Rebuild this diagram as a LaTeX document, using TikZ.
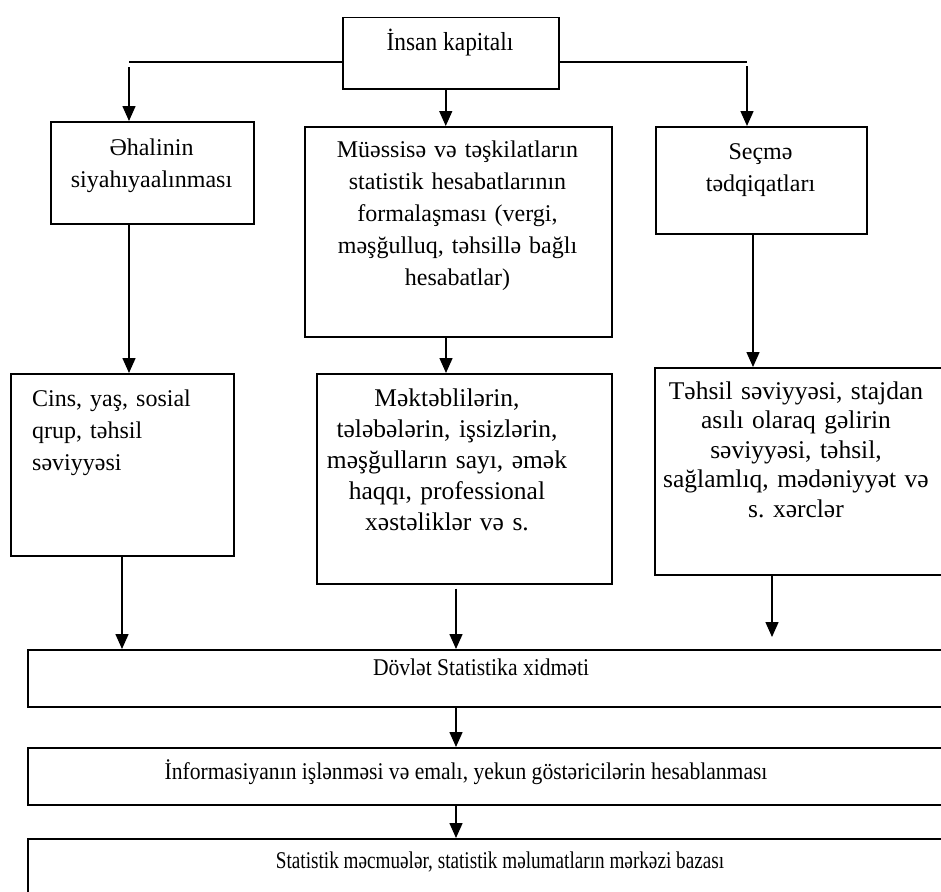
\documentclass[tikz,border=0pt]{standalone}
\usepackage{fontspec}
\setmainfont{Liberation Serif}
\newfontfamily\condfont[FakeStretch=0.9]{Liberation Serif}
\newfontfamily\condfontb[FakeStretch=0.8]{Liberation Serif}
\usetikzlibrary{arrows.meta}
\frenchspacing
\begin{document}
\begin{tikzpicture}[x=1pt,y=-1pt,
  box/.style={draw, line width=1.5pt, inner sep=0pt, anchor=north west},
  txt/.style={inner sep=0pt, anchor=base, text width=#1, align=center, font=\fontsize{24}{32}\selectfont},
  txt/.default=300pt,
  stxt/.style={inner sep=0pt, anchor=base, font=\condfont\fontsize{24}{28}\selectfont},
  conn/.style={line width=1.5pt},
  arr/.style={line width=1.5pt, -{Triangle[length=15pt,width=13pt]}}]
\useasboundingbox (0,0) rectangle (941,891);
\clip (0,0) rectangle (941,891);
% boxes
\node[box, minimum width=216pt, minimum height=71pt] (pin) at (342,17) {};
\node[box, minimum width=203pt, minimum height=102pt] (pop) at (50,121) {};
\node[box, minimum width=307pt, minimum height=210pt] (mid) at (304,126) {};
\node[box, minimum width=211pt, minimum height=107pt] (sec) at (655,126) {};
\node[box, minimum width=223pt, minimum height=182pt] (cins) at (10,373) {};
\node[box, minimum width=295pt, minimum height=210pt] (mek) at (316,373) {};
\node[box, minimum width=320pt, minimum height=207pt] (teh) at (654,367) {};
\node[box, minimum width=940pt, minimum height=57pt] (dov) at (27,649) {};
\node[box, minimum width=940pt, minimum height=57pt] (info) at (27,747) {};
\node[box, minimum width=940pt, minimum height=80pt] (stat) at (27,838) {};
% texts
\node[stxt, font=\condfont\fontsize{26}{30}\selectfont] (pinT) at (450,51) {İnsan kapitalı};
\node[txt=200pt] (popT) at (151.5,155) {Əhalinin\\siyahıyaalınması};
\node[txt=300pt] (midT) at (457.5,157) {Müəssisə və təşkilatların\\statistik hesabatlarının\\formalaşması (vergi,\\məşğulluq, təhsillə bağlı\\hesabatlar)};
\node[txt=200pt] (secT) at (760.5,159) {Seçmə\\tədqiqatları};
\node[txt=200pt, align=left, anchor=base west] (cinsT) at (32,406) {Cins, yaş, sosial\\qrup, təhsil\\səviyyəsi};
\node[txt=290pt, font=\fontsize{25.5}{31}\selectfont] (mekT) at (447,406) {Məktəblilərin,\\tələbələrin, işsizlərin,\\məşğulların sayı, əmək\\haqqı, professional\\xəstəliklər və s.};
\node[txt=300pt, font=\fontsize{25.5}{29.5}\selectfont] (tehT) at (796,399) {Təhsil səviyyəsi, stajdan\\asılı olaraq gəlirin\\səviyyəsi, təhsil,\\sağlamlıq, mədəniyyət və\\s. xərclər};
\node[stxt] (dovT) at (481,675) {Dövlət Statistika xidməti};
\node[stxt] (infoT) at (466,779) {İnformasiyanın işlənməsi və emalı, yekun göstəricilərin hesablanması};
\node[stxt, font=\condfontb\fontsize{24}{28}\selectfont] (statT) at (500,868) {Statistik məcmuələr, statistik məlumatların mərkəzi bazası};
% connectors
\coordinate (cL) at (129,62);
\coordinate (cR) at (747,62);
\coordinate (xm) at (446,0);
\coordinate (xr) at (753,0);
\coordinate (xl) at (122,0);
\coordinate (xb) at (456,0);
\coordinate (xrr) at (772,0);
\draw[conn] (cL) -- (cL -| pin.west);
\draw[conn] (pin.east |- cR) -- (cR);
\draw[arr] ([yshift=-5pt]cL) -- (cL |- pop.north);
\draw[arr] ([yshift=-4pt]cR) -- (cR |- sec.north);
\draw[arr] ([xshift=-5pt]pin.south) -- ([xshift=-5pt]pin.south |- mid.north);
\draw[arr] (cL |- pop.south) -- (cL |- cins.north);
\draw[arr] (xm |- mid.south) -- (xm |- mek.north);
\draw[arr] (xr |- sec.south) -- (xr |- teh.north);
\draw[arr] (xl |- cins.south) -- (xl |- dov.north);
\draw[arr] ([yshift=-4pt]xb |- mek.south) -- (xb |- dov.north);
\draw[arr] (xrr |- teh.south) -- ([yshift=12pt]xrr |- dov.north);
\draw[arr] (xb |- dov.south) -- (xb |- info.north);
\draw[arr] (xb |- info.south) -- (xb |- stat.north);
\end{tikzpicture}
\end{document}
